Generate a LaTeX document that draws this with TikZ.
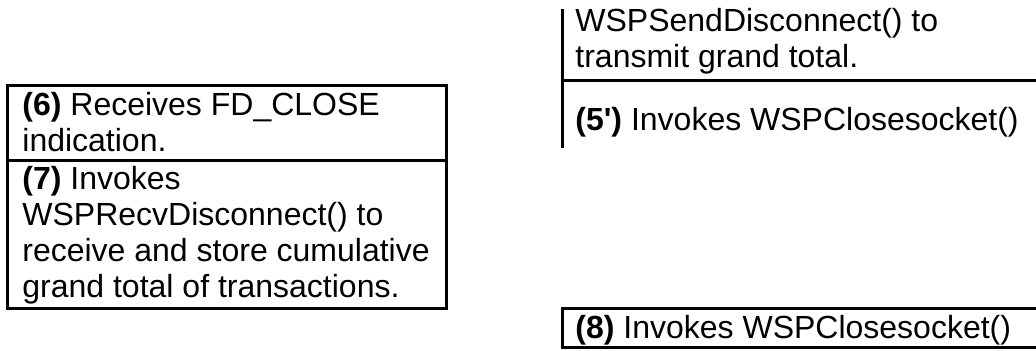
\documentclass[tikz,border=0pt]{standalone}
\usepackage{fontspec}
\setmainfont{Liberation Sans}
\begin{document}
\begin{tikzpicture}[x=0.5pt,y=-0.5pt,
  txt/.style={anchor=base west,inner sep=0pt,font=\fontsize{16}{18}\selectfont},
  rule/.style={line width=1.5pt}]
\useasboundingbox (0,0) rectangle (1036,350);
\draw[rule](562,9)--(562,148);
\draw[rule](562,80)--(1040,80);
\node[txt](sendA) at (575,31){WSPSendDisconnect() to};
\node[txt](sendB) at (575,67){transmit grand total.};
\node[txt](close5) at (575,130){\textbf{(5{\addfontfeature{Ligatures=TeXOff}'})} Invokes WSPClosesocket()};
\draw[rule](7,85) rectangle (446,308);
\draw[rule](7,160)--(446,160);
\node[txt](fd6a) at (22,115){\textbf{(6)} Receives FD\_CLOSE};
\node[txt](fd6b) at (22,151){indication.};
\node[txt](recv7a) at (22,189){\textbf{(7)} Invokes};
\node[txt](recv7b) at (22,225){WSPRecvDisconnect() to};
\node[txt](recv7c) at (22,261){receive and store cumulative};
\node[txt](recv7d) at (22,297){grand total of transactions.};
\draw[rule](1040,308)--(562,308)--(562,347)--(1040,347);
\node[txt](close8) at (575,338){\textbf{(8)} Invokes WSPClosesocket()};
\end{tikzpicture}
\end{document}
